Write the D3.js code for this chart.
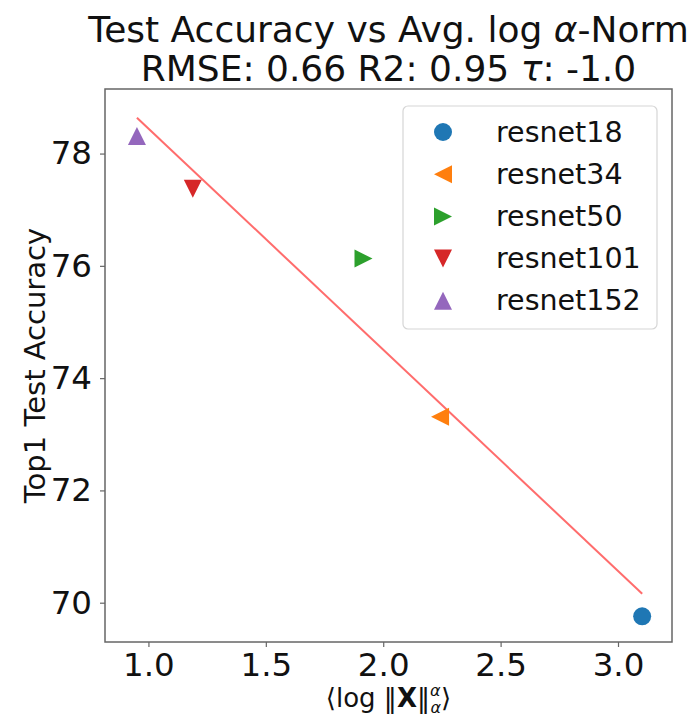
<!DOCTYPE html>
<html>
<head>
<meta charset="utf-8">
<script src="https://cdn.jsdelivr.net/npm/d3@7"></script>
<style>
  html, body { margin: 0; padding: 0; background: #fff; }
  svg { display: block; font-family: "DejaVu Sans", sans-serif; }
</style>
</head>
<body>
<svg id="chart" width="696" height="720"></svg>
<script>
// Models and their measurements
const models = ["resnet18", "resnet34", "resnet50", "resnet101", "resnet152"];
const logAlphaNorm = [3.103, 2.242, 1.916, 1.189, 0.951];
const top1Accuracy = [69.758, 73.314, 76.130, 77.374, 78.312];
const markerShapes = ["circle", "left", "right", "down", "up"];
const colors = ["#1f77b4", "#ff7f0e", "#2ca02c", "#d62728", "#9467bd"];

// Axes
const xTicks = [1.0, 1.5, 2.0, 2.5, 3.0];
const yTicks = [70, 72, 74, 76, 78];
const xDomain = [0.815, 3.23];
const yDomain = [69.3, 79.15];

const titleLines = ["Test Accuracy vs Avg. log α-Norm", "RMSE: 0.66 R2: 0.95 τ: -1.0"];

const svg = d3.select("#chart");
const frame = { left: 105, right: 672, top: 89, bottom: 642 };

const x = d3.scaleLinear().domain(xDomain).range([frame.left, frame.right]);
const y = d3.scaleLinear().domain(yDomain).range([frame.bottom, frame.top]);

// Least-squares fit through the points
const n = models.length;
const mx = d3.mean(logAlphaNorm), my = d3.mean(top1Accuracy);
let sxy = 0, sxx = 0;
for (let i = 0; i < n; i++) {
  sxy += (logAlphaNorm[i] - mx) * (top1Accuracy[i] - my);
  sxx += (logAlphaNorm[i] - mx) ** 2;
}
const slope = sxy / sxx, intercept = my - slope * mx;
const xExt = d3.extent(logAlphaNorm);

// Title
svg.append("g").selectAll("text").data(titleLines).join("text")
  .attr("x", (frame.left + frame.right) / 2)
  .attr("y", (d, i) => 42 + i * 39)
  .attr("text-anchor", "middle")
  .attr("font-size", 36)
  .attr("fill", "#111")
  .each(function(d) {
    const t = d3.select(this);
    // Greek letters are set in italic
    const parts = d.split(/([ατ])/);
    parts.forEach(p => {
      if (!p) return;
      const sp = t.append("tspan").text(p);
      if (p === "α" || p === "τ") sp.attr("font-style", "italic");
    });
  });

// Regression line
svg.append("line")
  .attr("x1", x(xExt[0])).attr("y1", y(intercept + slope * xExt[0]))
  .attr("x2", x(xExt[1])).attr("y2", y(intercept + slope * xExt[1]))
  .attr("stroke", "#ff3b3b").attr("stroke-opacity", 0.75).attr("stroke-width", 2);

// Marker path generator
function markerPath(shape, r) {
  if (shape === "circle") return d3.symbol(d3.symbolCircle, Math.PI * r * r)();
  const pts = {
    up:    [[0, -r], [-r, r], [r, r]],
    down:  [[0, r], [-r, -r], [r, -r]],
    left:  [[-r, 0], [r, -r], [r, r]],
    right: [[r, 0], [-r, -r], [-r, r]]
  }[shape];
  return "M" + pts.map(p => p.join(",")).join("L") + "Z";
}

// Points
svg.append("g").selectAll("path").data(models).join("path")
  .attr("transform", (d, i) => `translate(${x(logAlphaNorm[i])},${y(top1Accuracy[i])})`)
  .attr("d", (d, i) => markerPath(markerShapes[i], 9))
  .attr("fill", (d, i) => colors[i]);

// Axes
const xAxis = svg.append("g")
  .attr("transform", `translate(0,${frame.bottom})`)
  .call(d3.axisBottom(x).tickValues(xTicks).tickFormat(d3.format(".1f")).tickSize(5).tickPadding(6));
const yAxis = svg.append("g")
  .attr("transform", `translate(${frame.left},0)`)
  .call(d3.axisLeft(y).tickValues(yTicks).tickFormat(d3.format("d")).tickSize(5).tickPadding(8));
[xAxis, yAxis].forEach(g => {
  g.select(".domain").remove();
  g.selectAll("line").attr("stroke", "#666").attr("stroke-width", 1.2);
  g.selectAll("text").attr("font-size", 32.5).attr("fill", "#111")
    .attr("font-family", "DejaVu Sans, sans-serif");
});

// Frame
svg.append("rect")
  .attr("x", frame.left).attr("y", frame.top)
  .attr("width", frame.right - frame.left).attr("height", frame.bottom - frame.top)
  .attr("fill", "none").attr("stroke", "#666").attr("stroke-width", 1.5);

// Axis labels
svg.append("text")
  .attr("transform", `translate(35,${(frame.top + frame.bottom) / 2}) rotate(-90)`)
  .attr("text-anchor", "middle").attr("dominant-baseline", "central")
  .attr("font-size", 29).attr("fill", "#111")
  .text("Top1 Test Accuracy");

const xl = svg.append("text")
  .attr("x", (frame.left + frame.right) / 2).attr("y", 707)
  .attr("text-anchor", "middle").attr("font-size", 26).attr("fill", "#111");
xl.append("tspan").text("⟨log ‖");
xl.append("tspan").attr("font-weight", "bold").text("X");
xl.append("tspan").text("‖");
xl.append("tspan").attr("font-size", 16).attr("font-style", "italic").attr("dy", -11).text("α");
xl.append("tspan").attr("font-size", 16).attr("font-style", "italic").attr("dx", -10).attr("dy", 17).text("α");
xl.append("tspan").attr("dy", -6).text("⟩");

// Legend
const legend = svg.append("g");
legend.append("rect")
  .attr("x", 403).attr("y", 106).attr("width", 254).attr("height", 223)
  .attr("rx", 5).attr("fill", "#fff").attr("fill-opacity", 0.8)
  .attr("stroke", "#d6d6d6").attr("stroke-width", 1.2);
const rows = legend.selectAll("g.row").data(models).join("g")
  .attr("class", "row")
  .attr("transform", (d, i) => `translate(0,${132 + i * 42.2})`);
rows.append("path")
  .attr("transform", "translate(443,0)")
  .attr("d", (d, i) => markerPath(markerShapes[i], 9))
  .attr("fill", (d, i) => colors[i]);
rows.append("text")
  .attr("x", 496).attr("dominant-baseline", "central")
  .attr("font-size", 28.5).attr("fill", "#111")
  .text(d => d);
</script>
</body>
</html>
